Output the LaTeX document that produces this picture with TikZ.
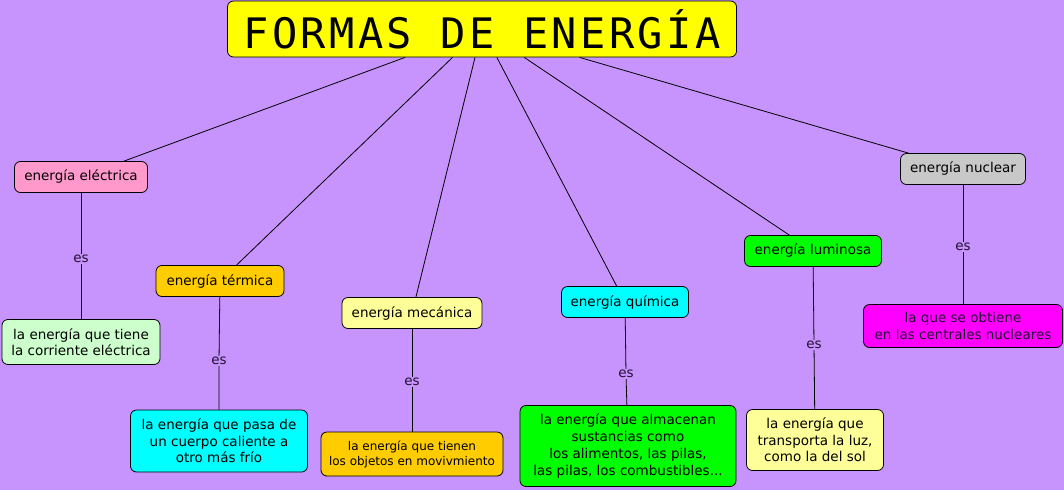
\documentclass[tikz,border=0pt]{standalone}
\usepackage{fontspec}
\setmainfont{DejaVu Sans}
\newfontfamily\titlefont[LetterSpace=8]{DejaVu Sans Mono}
\definecolor{bgc}{HTML}{C794FE}
\definecolor{pinkc}{HTML}{FF99CC}
\definecolor{lgreen}{HTML}{CCFFCC}
\definecolor{orangec}{HTML}{FFCC00}
\definecolor{lyellow}{HTML}{FFFF99}
\definecolor{greyc}{HTML}{C8C8C8}
\definecolor{cyanc}{HTML}{00FFFF}
\definecolor{greenc}{HTML}{00FF00}
\definecolor{magc}{HTML}{FF00FF}
\definecolor{yellowc}{HTML}{FFFF00}
\definecolor{labc}{HTML}{221133}
\tikzset{
  box/.style={draw=black, line width=0.8pt, rounded corners=6pt, align=center,
    inner sep=0pt, font=\fontsize{13.5}{16.5}\selectfont, text=black},
  link/.style={draw=black, line width=0.8pt},
  lab/.style={fill=bgc, inner sep=1pt, font=\fontsize{13.5}{15}\selectfont, text=labc},
}
\begin{document}
\begin{tikzpicture}[x=1pt,y=-1pt]
\fill[bgc] (0,0) rectangle (1064,490);
\useasboundingbox (0,0) rectangle (1064,490);

\node[box, fill=yellowc, minimum width=509pt, minimum height=56pt, font=\titlefont\fontsize{42}{42}\selectfont] (title) at (482,29) {FORMAS DE ENERGÍA};

\node[box, fill=pinkc, minimum width=133pt, minimum height=31pt] (elec) at (81,177) {energía eléctrica};
\node[box, fill=lgreen, minimum width=158pt, minimum height=45pt] (delec) at (81,342) {la energía que tiene\\la corriente eléctrica};

\node[box, fill=orangec, minimum width=128pt, minimum height=31pt] (term) at (220,281) {energía térmica};
\node[box, fill=cyanc, minimum width=177pt, minimum height=62pt] (dterm) at (219,441) {la energía que pasa de\\un cuerpo caliente a\\otro más frío};

\node[box, fill=lyellow, minimum width=140pt, minimum height=31pt] (mec) at (412,313) {energía mecánica};
\node[box, fill=orangec, minimum width=182pt, minimum height=44pt, font=\fontsize{12}{15}\selectfont] (dmec) at (412,454) {la energía que tienen\\los objetos en movivmiento};

\node[box, fill=cyanc, minimum width=127pt, minimum height=31pt] (quim) at (625,302) {energía química};
\node[box, fill=greenc, minimum width=216pt, minimum height=81pt, font=\fontsize{13.5}{17}\selectfont] (dquim) at (628,446) {la energía que almacenan\\sustancias como\\los alimentos, las pilas,\\las pilas, los combustibles...};

\node[box, fill=greenc, minimum width=137pt, minimum height=31pt] (lum) at (813,251) {energía luminosa};
\node[box, fill=lyellow, minimum width=137pt, minimum height=61pt] (dlum) at (815,440) {la energía que\\transporta la luz,\\como la del sol};

\node[box, fill=greyc, minimum width=125pt, minimum height=31pt] (nuc) at (963,169) {energía nuclear};
\node[box, fill=magc, minimum width=199pt, minimum height=43pt, text=labc] (dnuc) at (963,326) {la que se obtiene\\en las centrales nucleares};

\foreach \c in {elec,term,mec,quim,lum,nuc}
  \draw[link] (title) -- (\c);

\node[lab] (l1) at (81,259) {es};
\node[lab] (l2) at (219,361) {es};
\node[lab] (l3) at (412,382) {es};
\node[lab] (l4) at (626,374) {es};
\node[lab] (l5) at (814,345) {es};
\node[lab] (l6) at (963,247) {es};

\draw[link] (elec) -- (l1) -- (delec);
\draw[link] (term) -- (l2) -- (dterm);
\draw[link] (mec) -- (l3) -- (dmec);
\draw[link] (quim) -- (l4) -- (dquim);
\draw[link] (lum) -- (l5) -- (dlum);
\draw[link] (nuc) -- (l6) -- (dnuc);
\end{tikzpicture}
\end{document}
